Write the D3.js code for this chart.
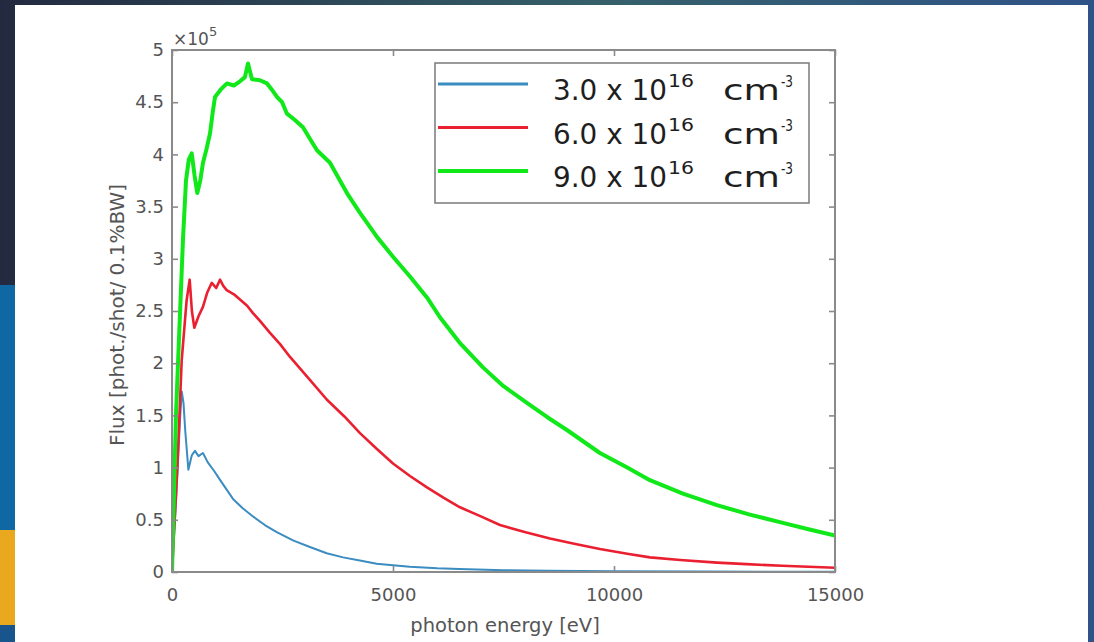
<!DOCTYPE html>
<html>
<head>
<meta charset="utf-8">
<script src="https://cdn.jsdelivr.net/npm/d3@7"></script>
<style>
	html, body { margin: 0; padding: 0; background: #26304a; }
	svg { display: block; }
	text { font-family: "DejaVu Sans", sans-serif; }
</style>
</head>
<body>
<svg id="chart"></svg>
<script>
// values, flux in units of 1e5 phot./shot/0.1%BW
var blueEnergy = [0, 100, 180, 220, 260, 300, 370, 450, 520, 600, 700, 810, 950, 1090, 1380, 1600, 1840, 2100, 2380, 2750, 3120, 3500, 3870, 4250, 4630, 5000, 5380, 6000, 6500, 7500, 8500, 10000, 12000, 15000];
var blueFlux = [0, 0.75, 1.45, 1.73, 1.62, 1.35, 0.98, 1.12, 1.16, 1.11, 1.14, 1.05, 0.97, 0.88, 0.70, 0.61, 0.53, 0.45, 0.38, 0.30, 0.24, 0.18, 0.14, 0.11, 0.08, 0.065, 0.05, 0.035, 0.028, 0.017, 0.011, 0.007, 0.004, 0.002];

var redEnergy = [0, 120, 220, 330, 400, 450, 505, 600, 700, 800, 900, 1000, 1086, 1160, 1237, 1400, 1538, 1700, 1832, 2000, 2217, 2450, 2670, 3100, 3506, 3900, 4253, 4630, 5000, 5384, 5768, 6150, 6515, 7000, 7420, 8000, 8551, 9100, 9681, 10300, 10812, 11500, 12328, 13000, 13800, 15000];
var redFlux = [0, 1.0, 2.03, 2.6, 2.80, 2.5, 2.34, 2.45, 2.54, 2.68, 2.77, 2.72, 2.80, 2.74, 2.70, 2.66, 2.61, 2.55, 2.48, 2.40, 2.29, 2.18, 2.06, 1.85, 1.65, 1.49, 1.33, 1.18, 1.04, 0.92, 0.81, 0.71, 0.62, 0.53, 0.45, 0.38, 0.32, 0.27, 0.22, 0.175, 0.14, 0.115, 0.09, 0.075, 0.06, 0.04];

var greenEnergy = [0, 90, 136, 250, 317, 380, 446, 510, 572, 640, 701, 780, 860, 920, 973, 1100, 1244, 1400, 1538, 1650, 1719, 1810, 1991, 2149, 2260, 2375, 2490, 2601, 2780, 2963, 3120, 3280, 3574, 3958, 4253, 4637, 5000, 5384, 5768, 6062, 6500, 7035, 7500, 8030, 8500, 8935, 9681, 10300, 10812, 11559, 12328, 13074, 13821, 14400, 15000];
var greenFlux = [0, 1.5, 2.0, 3.2, 3.75, 3.95, 4.01, 3.8, 3.63, 3.75, 3.92, 4.05, 4.2, 4.4, 4.55, 4.62, 4.68, 4.66, 4.70, 4.74, 4.87, 4.72, 4.71, 4.68, 4.62, 4.55, 4.5, 4.39, 4.33, 4.26, 4.15, 4.04, 3.92, 3.63, 3.44, 3.21, 3.02, 2.83, 2.63, 2.44, 2.2, 1.96, 1.78, 1.62, 1.48, 1.36, 1.14, 1.0, 0.88, 0.75, 0.64, 0.55, 0.47, 0.41, 0.35];

var fluxUnit = 1e5;
var xTicks = [0, 5000, 10000, 15000];
var yTicks = [0, 0.5, 1, 1.5, 2, 2.5, 3, 3.5, 4, 4.5, 5];
var legendLabels = ['3.0 x 10', '6.0 x 10', '9.0 x 10'];

var series = [
	{ energy: blueEnergy, flux: blueFlux, color: '#3b8cc0', width: 2 },
	{ energy: redEnergy, flux: redFlux, color: '#ea2030', width: 2.6 },
	{ energy: greenEnergy, flux: greenFlux, color: '#10e81a', width: 4 }
];

var W = 1094, H = 642;
var plot = { left: 172, top: 50, right: 835, bottom: 572 };

var svg = d3.select('#chart').attr('width', W).attr('height', H);
var defs = svg.append('defs');

// dark backdrop around the white slide
var bg = defs.append('linearGradient').attr('id', 'bg');
bg.append('stop').attr('offset', '0%').attr('stop-color', '#232a40');
bg.append('stop').attr('offset', '55%').attr('stop-color', '#35606a');
bg.append('stop').attr('offset', '100%').attr('stop-color', '#2f5388');
svg.append('rect').attr('width', W).attr('height', H).attr('fill', 'url(#bg)');
svg.append('rect').attr('x', 0).attr('y', 285).attr('width', 15).attr('height', 245).attr('fill', '#0f68a4');
svg.append('rect').attr('x', 0).attr('y', 530).attr('width', 15).attr('height', 95).attr('fill', '#eaa81e');
svg.append('rect').attr('x', 0).attr('y', 625).attr('width', 15).attr('height', 17).attr('fill', '#17558c');
svg.append('rect').attr('x', 15).attr('y', 5).attr('width', 1073).attr('height', 637).attr('fill', '#ffffff');

var x = d3.scaleLinear().domain([0, 15000]).range([plot.left, plot.right]);
var y = d3.scaleLinear().domain([0, 5 * fluxUnit]).range([plot.bottom, plot.top]);

defs.append('clipPath').attr('id', 'clip').append('rect')
	.attr('x', plot.left).attr('y', plot.top)
	.attr('width', plot.right - plot.left).attr('height', plot.bottom - plot.top);

var line = d3.line()
	.x(function (d) { return x(d[0]); })
	.y(function (d) { return y(d[1] * fluxUnit); });

var lines = svg.append('g').attr('clip-path', 'url(#clip)');
series.forEach(function (s) {
	lines.append('path')
		.datum(s.energy.map(function (e, i) { return [e, s.flux[i]]; }))
		.attr('d', line)
		.attr('fill', 'none')
		.attr('stroke', s.color)
		.attr('stroke-width', s.width)
		.attr('stroke-linejoin', 'round');
});

// MATLAB style box: inward ticks on all four sides
var fmtY = function (d) { return d3.format('~g')(d / fluxUnit); };
var axisColor = '#8a8a8a';

function styleAxis(g, labels) {
	g.select('.domain').remove();
	g.selectAll('.tick line').attr('stroke', axisColor).attr('stroke-width', 1.6);
	g.selectAll('.tick text')
		.attr('fill', '#555')
		.attr('font-size', 18)
		.style('display', labels ? null : 'none');
}

svg.append('g')
	.attr('transform', 'translate(' + plot.left + ',0)')
	.call(d3.axisLeft(y).tickValues(yTicks.map(function (v) { return v * fluxUnit; }))
		.tickFormat(fmtY).tickSize(-6).tickPadding(8))
	.call(styleAxis, true);
svg.append('g')
	.attr('transform', 'translate(' + plot.right + ',0)')
	.call(d3.axisRight(y).tickValues(yTicks.map(function (v) { return v * fluxUnit; })).tickSize(-6))
	.call(styleAxis, false);
svg.append('g')
	.attr('transform', 'translate(0,' + plot.bottom + ')')
	.call(d3.axisBottom(x).tickValues(xTicks).tickFormat(d3.format('d')).tickSize(-6).tickPadding(16))
	.call(styleAxis, true);
svg.append('g')
	.attr('transform', 'translate(0,' + plot.top + ')')
	.call(d3.axisTop(x).tickValues(xTicks).tickSize(-6))
	.call(styleAxis, false);

svg.append('rect')
	.attr('x', plot.left).attr('y', plot.top)
	.attr('width', plot.right - plot.left).attr('height', plot.bottom - plot.top)
	.attr('fill', 'none').attr('stroke', axisColor).attr('stroke-width', 2);

// exponent above the y axis
var expo = svg.append('text').attr('x', plot.left + 1).attr('y', 45).attr('fill', '#555').attr('font-size', 17);
expo.append('tspan').text('\u00d710');
expo.append('tspan').attr('dy', -9).attr('font-size', 13).text('5');

// axis titles
svg.append('text')
	.attr('transform', 'translate(124,315) rotate(-90)')
	.attr('text-anchor', 'middle')
	.attr('font-size', 20)
	.attr('fill', '#555')
	.attr('textLength', 262).attr('lengthAdjust', 'spacingAndGlyphs')
	.text('Flux [phot./shot/ 0.1%BW]');
svg.append('text')
	.attr('x', 505).attr('y', 632)
	.attr('text-anchor', 'middle')
	.attr('font-size', 19.5)
	.attr('fill', '#555')
	.text('photon energy [eV]');

// legend
var legend = svg.append('g');
legend.append('rect')
	.attr('x', 435).attr('y', 63).attr('width', 374).attr('height', 140)
	.attr('fill', '#fff').attr('stroke', '#7a7a7a').attr('stroke-width', 1.5);

series.forEach(function (s, i) {
	var base = 100 + i * 43.5;
	legend.append('line')
		.attr('x1', 438).attr('x2', 528)
		.attr('y1', base - 16).attr('y2', base - 16)
		.attr('stroke', s.color).attr('stroke-width', Math.max(s.width, 3));
	var parts = [
		{ t: legendLabels[i], x: 553, dy: 0, size: 28, len: 114 },
		{ t: '16', x: 668, dy: -13, size: 17, len: 26 },
		{ t: 'cm', x: 723, dy: 0, size: 28, len: 57 },
		{ t: '-3', x: 781, dy: -13, size: 16, len: 12 }
	];
	parts.forEach(function (p) {
		legend.append('text')
			.attr('x', p.x).attr('y', base + p.dy)
			.attr('font-size', p.size)
			.attr('fill', '#1e1e1e')
			.attr('textLength', p.len).attr('lengthAdjust', 'spacingAndGlyphs')
			.text(p.t);
	});
});
</script>
</body>
</html>
